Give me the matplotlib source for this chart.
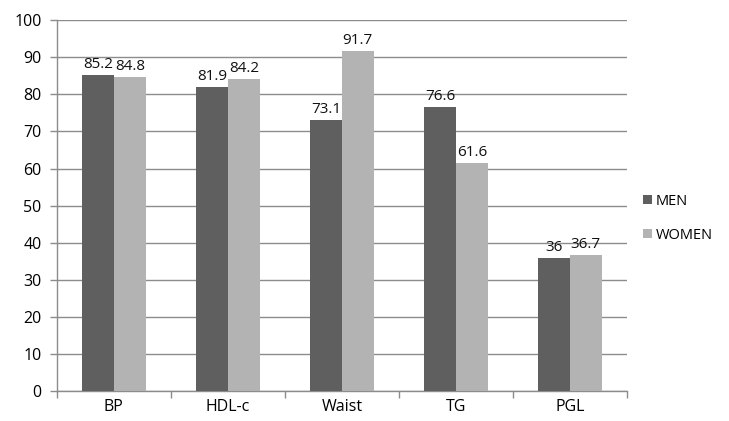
import matplotlib
matplotlib.use("Agg")
import matplotlib.pyplot as plt
import numpy as np

plt.rcParams['font.family'] = ['Open Sans', 'DejaVu Sans']

categories = ["BP", "HDL-c", "Waist", "TG", "PGL"]
men = [85.2, 81.9, 73.1, 76.6, 36]
women = [84.8, 84.2, 91.7, 61.6, 36.7]
yticks = list(range(0, 101, 10))

men_color = "#5f5f5f"
women_color = "#b3b3b3"
grid_color = "#8c8c8c"
fs = 11.5

fig = plt.figure(figsize=(7.29, 4.21), dpi=100)
ax = fig.add_axes([0.078, 0.071, 0.782, 0.881])

x = np.arange(len(categories))
w = 0.28
b1 = ax.bar(x - w / 2, men, width=w, color=men_color, label="MEN", zorder=3)
b2 = ax.bar(x + w / 2, women, width=w, color=women_color, label="WOMEN", zorder=3)

for bars, vals in ((b1, men), (b2, women)):
    for rect, v in zip(bars, vals):
        ax.text(rect.get_x() + rect.get_width() / 2, v + 0.8, f"{v:g}",
                ha="center", va="bottom", fontsize=11, color="#111111")

ax.set_xlim(-0.5, len(categories) - 0.5)
ax.set_ylim(0, 100)
ax.set_yticks(yticks)
ax.yaxis.grid(True, color=grid_color, linewidth=1.0, zorder=0)
ax.set_axisbelow(True)

ax.set_xticks(x)
ax.set_xticklabels(categories, fontsize=fs)
ax.tick_params(axis="x", length=0, pad=6)
ax.set_xticks(np.arange(-0.5, len(categories)), minor=True)
ax.tick_params(axis="x", which="minor", length=5, color=grid_color, width=1)
ax.tick_params(axis="y", length=5, color=grid_color, width=1, labelsize=fs, pad=6)

for side in ("top", "right"):
    ax.spines[side].set_visible(False)
for side in ("left", "bottom"):
    ax.spines[side].set_color(grid_color)
    ax.spines[side].set_linewidth(1.0)

fig.legend(handles=[b1, b2], labels=["MEN", "WOMEN"], loc="center left",
           bbox_to_anchor=(0.882, 0.482), frameon=False, fontsize=10.5,
           handlelength=0.6, handleheight=0.6, handletextpad=0.3,
           labelspacing=1.3, borderpad=0, borderaxespad=0)

fig.savefig("out.png", dpi=100)
